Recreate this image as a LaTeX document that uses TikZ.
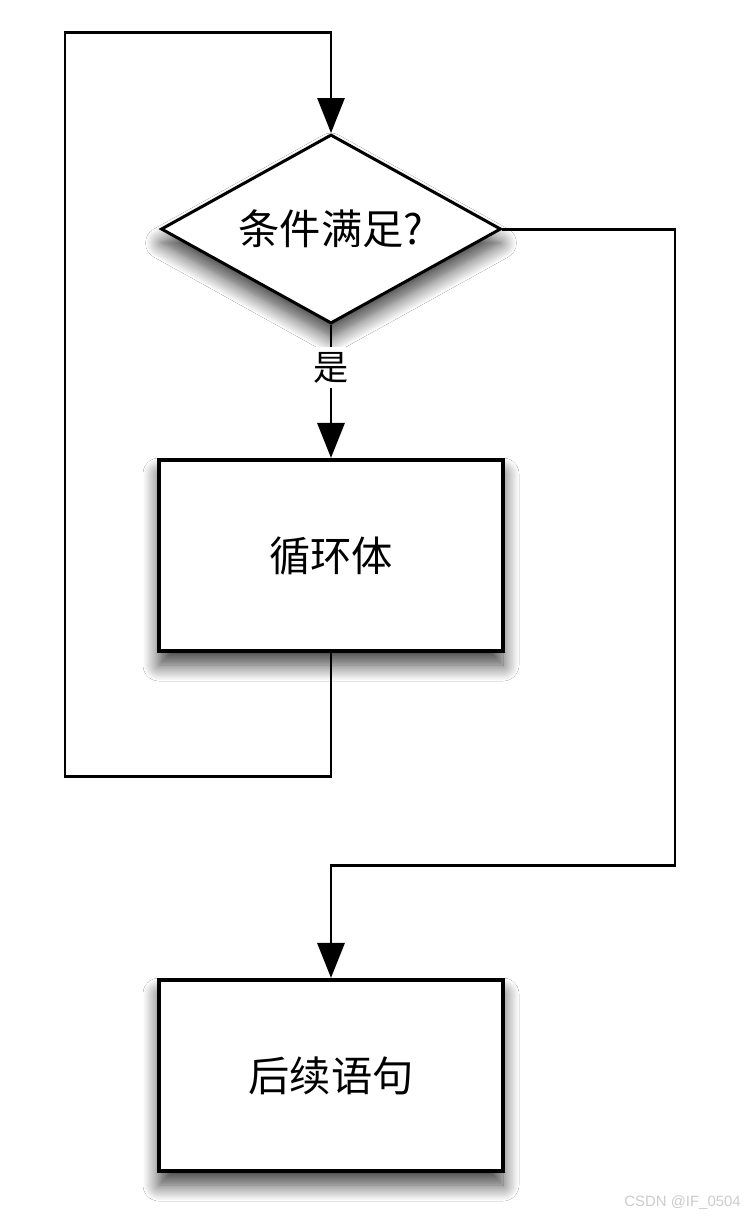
\documentclass[tikz,border=0pt]{standalone}
\usepackage{fontspec}
\newfontfamily\cjk{Noto Sans CJK SC}
\newfontfamily\marksans{Liberation Sans}
\usetikzlibrary{shapes.geometric,arrows.meta,shadows.blur}
\tikzset{
	shade box/.style={blur shadow={shadow xshift=0pt, shadow yshift=-0.28cm, shadow blur radius=0.32cm, shadow blur steps=14, shadow opacity=75}},
	cond/.style={diamond, draw, line width=1.7pt, fill=white, aspect=1.8, inner sep=0pt, minimum width=6.8cm, minimum height=3.78cm, shade box},
	stmt/.style={rectangle, draw, line width=2.3pt, fill=white, minimum width=6.88cm, minimum height=3.82cm, shade box},
	flow/.style={line width=1.7pt, -{Triangle[length=0.7cm,width=0.54cm]}}
}
\begin{document}
\begin{tikzpicture}[font=\cjk\fontsize{23.5}{28}\selectfont]
		\useasboundingbox (0,0) rectangle (15.06,-24.38);
		\fill[white] (0,0) rectangle (15.06,-24.38);
		\node[cond] (test) at (6.62,-4.58) {条件满足?};
		\node[stmt] (body) at (6.62,-11.11) {循环体};
		\node[stmt] (next) at (6.62,-21.51) {后续语句};
		\coordinate (lb) at (1.3,-15.52);
		\coordinate (lt) at (1.3,-0.64);
		\coordinate (rb) at (13.5,-17.3);
		\draw[flow] (test.south) -- node[pos=0.32, fill=white, inner sep=3pt, font=\cjk\fontsize{20}{24}\selectfont]{是} (body.north);
		\draw[flow] (body.south) |- (lb) -- (lt) -| (test.north);
		\draw[flow] (test.east) -| (rb) -| (next.north);
		\node[anchor=east, text=gray!40, font=\marksans\fontsize{8.5}{10}\selectfont] (mark) at (14.94,-24.06) {CSDN @IF\_0504};
	\end{tikzpicture}
\end{document}
